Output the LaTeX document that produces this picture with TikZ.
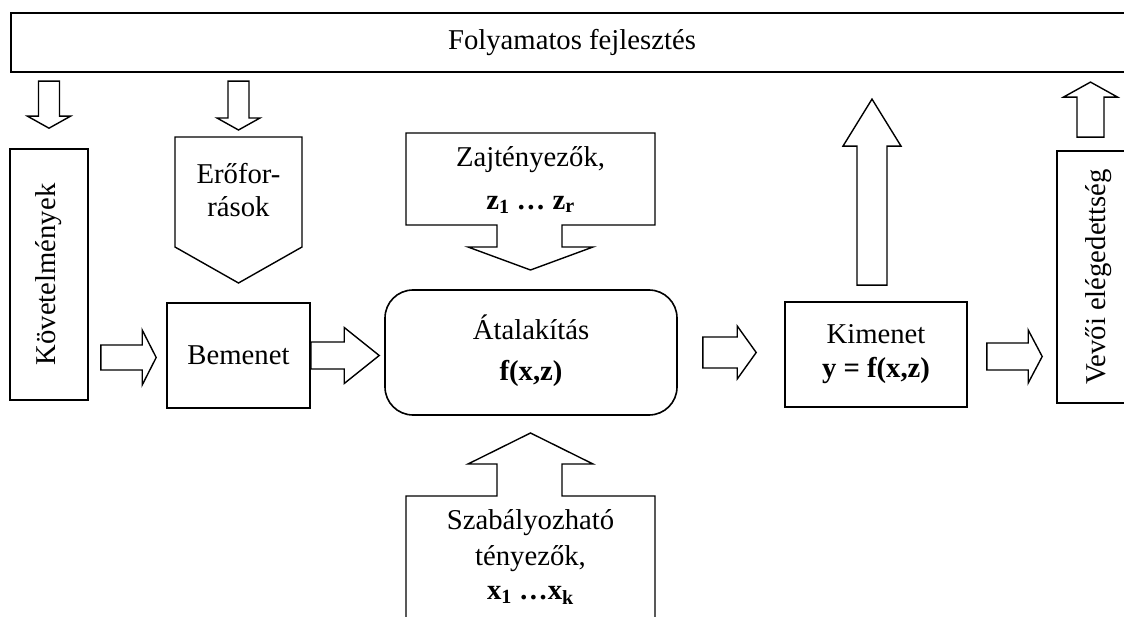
\documentclass[tikz,border=0pt]{standalone}
\usepackage{fontspec}
\setmainfont{Liberation Serif}
\usepackage{graphicx}
\usetikzlibrary{calc,positioning}

% block arrow: tail, tip, half shaft, half head, head length
\newcommand{\fatarrow}[5]{%
  \draw[fat] ($(#1)!#3!90:(#2)$) -- ($(#2)!#5!(#1)!#3!90:(#2)$)
    -- ($(#2)!#5!(#1)!#4!90:(#2)$) -- (#2)
    -- ($(#2)!#5!(#1)!#4!-90:(#2)$) -- ($(#2)!#5!(#1)!#3!-90:(#2)$)
    -- ($(#1)!#3!-90:(#2)$) -- cycle;
}

\tikzset{
  box/.style={draw, line width=1.6pt, inner sep=0pt, align=center},
  fat/.style={draw, line width=1.4pt, line join=miter},
}

\begin{document}
\begin{tikzpicture}[x=1pt, y=-1pt, every node/.style={font=\fontsize{28.7}{33}\selectfont}]
    \useasboundingbox (0,0) rectangle (1124,617);
    \clip (0,0) rectangle (1124,617);

    \node[box, line width=2.2pt, minimum width=1122pt, minimum height=59pt] (fejl) at (572,42.5) {Folyamatos fejlesztés};
    \node[box, minimum width=78pt, minimum height=251pt] (kov) at (49,274.5) {\rotatebox{90}{Követelmények}};
    \node[box, minimum width=143pt, minimum height=105pt] (bem) at (238.5,355.5) {Bemenet};
    \node[box, rounded corners=28pt, minimum width=292pt, minimum height=125pt] (atal) at (531,352.5) {Átalakítás\\[8pt]\textbf{f(x,z)}\\[-23pt]};
    \node[box, minimum width=182pt, minimum height=105pt] (kim) at (876,354.5) {Kimenet\\[1pt]\textbf{y = f(x,z)}};
    \node[box, minimum width=83pt, minimum height=252pt] (vev) at (1098.5,277) {\rotatebox{90}{Vevői elégedettség}};

    % erőforrások
    \draw[fat] (175,137) coordinate (erotop) -- (302,137) -- (302,247) -- (238.5,283) -- (175,247) -- cycle;
    \node[align=center] (ero) at (238.5,190) {Erőfor-\\rások};

    % zajtényezők
    \draw[fat] (406,133) -- (655,133) -- (655,225) -- (562,225) -- (562,247) -- (593,247) -- (530.5,270)
        -- (468,247) -- (497,247) -- (497,225) -- (406,225) -- cycle;
    \node[align=center] (zaj) at (530.5,180) {Zajtényezők,\\[10pt]\textbf{z\textsubscript{1} … z\textsubscript{r}}};

    % szabályozható tényezők
    \draw[fat] (406,630) -- (406,496) -- (497,496) -- (497,464) -- (468,464) -- (530.5,433)
        -- (593,464) -- (562,464) -- (562,496) -- (655,496) -- (655,630);
    \node[align=center] (szab) at (530.5,557) {Szabályozható\\[3pt]tényezők,\\[1pt]\textbf{x\textsubscript{1} …x\textsubscript{k}}};

    \coordinate (a1) at ($(kov.north |- fejl.south)+(0,8)$);
    \coordinate (b1) at ($(kov.north)+(0,-20)$);
    \coordinate (a2) at ($(ero |- fejl.south)+(0,8)$);
    \coordinate (b2) at ($(ero |- erotop)+(0,-7)$);
    \coordinate (a3) at ($(kov.east |- bem.west)+(12,2)$);
    \coordinate (b3) at ($(bem.west)+(-10,2)$);
    \coordinate (a4) at (bem.east);
    \coordinate (b4) at ($(atal.west |- bem.east)+(-5,0)$);
    \coordinate (a5) at ($(atal.east)+(25,0)$);
    \coordinate (b5) at ($(kim.west |- atal.east)+(-28,0)$);
    \coordinate (a6) at ($(kim.north)+(-4,-16)$);
    \coordinate (b6) at ($(kim.north |- fejl.south)+(-4,26)$);
    \coordinate (a7) at ($(kim.east)+(19,2)$);
    \coordinate (b7) at ($(vev.west |- kim.east)+(-14,2)$);
    \coordinate (a8) at ($(vev.north)+(-8,-13)$);
    \coordinate (b8) at ($(vev.north |- fejl.south)+(-8,9)$);

    \fatarrow{a1}{b1}{10.5pt}{21.5pt}{12pt}
    \fatarrow{a2}{b2}{10.5pt}{21.5pt}{12pt}
    \fatarrow{a3}{b3}{12.5pt}{27.5pt}{14pt}
    \fatarrow{a4}{b4}{13.5pt}{28pt}{35pt}
    \fatarrow{a5}{b5}{15.5pt}{26.5pt}{19pt}
    \fatarrow{a6}{b6}{15pt}{29pt}{47pt}
    \fatarrow{a7}{b7}{13.5pt}{26.5pt}{14pt}
    \fatarrow{a8}{b8}{13.5pt}{27pt}{15pt}
\end{tikzpicture}
\end{document}
